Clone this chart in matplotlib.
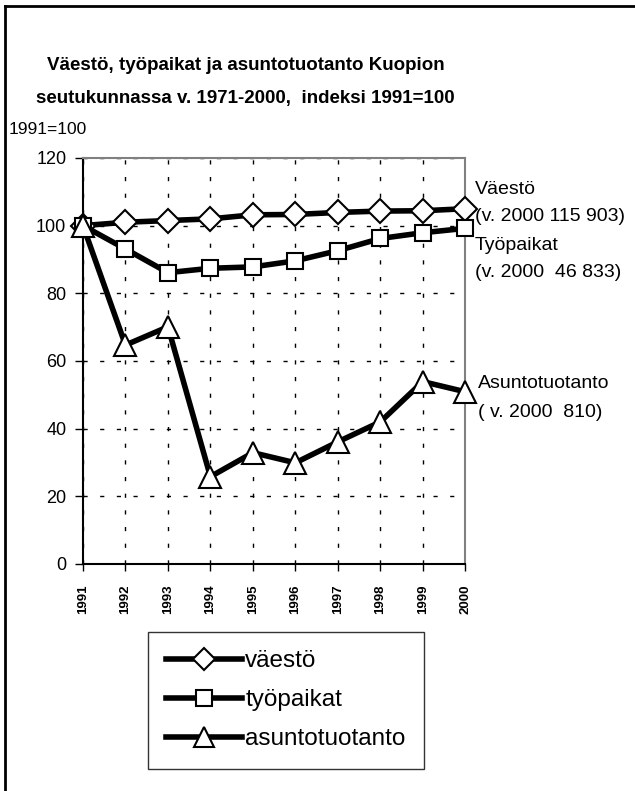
import matplotlib
matplotlib.use('Agg')
import numpy as np
from matplotlib import pyplot as plt
from matplotlib.lines import Line2D

plt.rcParams['font.family'] = ['Liberation Sans', 'DejaVu Sans']

years = ['1991', '1992', '1993', '1994', '1995', '1996', '1997', '1998', '1999', '2000']
vaesto = [100, 101.0, 101.5, 102.0, 103.2, 103.3, 103.9, 104.3, 104.4, 105.0]
tyopaikat = [100, 93.1, 86.1, 87.4, 87.8, 89.6, 92.6, 96.2, 97.9, 99.2]
asuntotuotanto = [100, 64.7, 70.1, 25.8, 32.9, 29.9, 36.1, 42.0, 53.9, 50.9]

series_names = ['väestö', 'työpaikat', 'asuntotuotanto']
markers = ['D', 's', '^']
msizes = [12, 12, 16]

fig = plt.figure(figsize=(6.35, 7.91), dpi=100)
ax = fig.add_axes([0.1307, 0.287, 0.602, 0.5133])

x = np.arange(len(years))
for vals, mk, ms in zip([vaesto, tyopaikat, asuntotuotanto], markers, msizes):
	ax.plot(x, vals, color='black', lw=4, marker=mk, ms=ms,
		mfc='white', mec='black', mew=1.5, zorder=3, clip_on=False)

ax.set_xlim(0, len(years) - 1)
ax.set_ylim(0, 120)
ax.set_yticks(range(0, 121, 20))
ax.set_xticks(x)
ax.set_xticklabels(years, rotation=90, fontsize=9.5, fontweight='bold')
ax.tick_params(axis='y', labelsize=13, direction='out', length=6, width=1, pad=6)
ax.tick_params(axis='x', direction='out', length=5, width=1, pad=10)
ax.grid(True, color='black', ls=(0, (3, 9)), lw=1)
for s in ['top', 'right']:
	ax.spines[s].set_color('#808080')
	ax.spines[s].set_linewidth(1.5)
for s in ['left', 'bottom']:
	ax.spines[s].set_color('black')
	ax.spines[s].set_linewidth(1.5)

fig.text(0.387, 0.917, 'Väestö, työpaikat ja asuntotuotanto Kuopion', ha='center', va='center',
	fontsize=13.5, fontweight='bold')
fig.text(0.387, 0.876, 'seutukunnassa v. 1971-2000,  indeksi 1991=100', ha='center', va='center',
	fontsize=13.5, fontweight='bold')
fig.text(0.013, 0.836, '1991=100', ha='left', va='center', fontsize=12.5)

fig.text(0.748, 0.760, 'Väestö', ha='left', va='center', fontsize=14)
fig.text(0.748, 0.726, '(v. 2000 115 903)', ha='left', va='center', fontsize=14)
fig.text(0.748, 0.690, 'Työpaikat', ha='left', va='center', fontsize=14)
fig.text(0.748, 0.655, '(v. 2000  46 833)', ha='left', va='center', fontsize=14)
fig.text(0.752, 0.515, 'Asuntotuotanto', ha='left', va='center', fontsize=14)
fig.text(0.752, 0.479, '( v. 2000  810)', ha='left', va='center', fontsize=14)

handles = [Line2D([0], [0], color='black', lw=4, marker=mk, ms=ms - 1,
	mfc='white', mec='black', mew=1.5) for mk, ms in zip(markers, msizes)]
leg = fig.legend(handles, series_names, loc='upper left', bbox_to_anchor=(0.233, 0.201),
	frameon=True, fancybox=False, edgecolor='black', fontsize=17.5, handlelength=3.1,
	handletextpad=0.15, labelspacing=0.7, borderpad=0.75, borderaxespad=0)
leg.get_frame().set_linewidth(1)

# outer frame: top and left edges only
fig.add_artist(Line2D([0.008, 0.008], [0, 0.992], color='black', lw=2, transform=fig.transFigure))
fig.add_artist(Line2D([0.008, 1], [0.992, 0.992], color='black', lw=2, transform=fig.transFigure))

fig.savefig('out.png', dpi=100)
